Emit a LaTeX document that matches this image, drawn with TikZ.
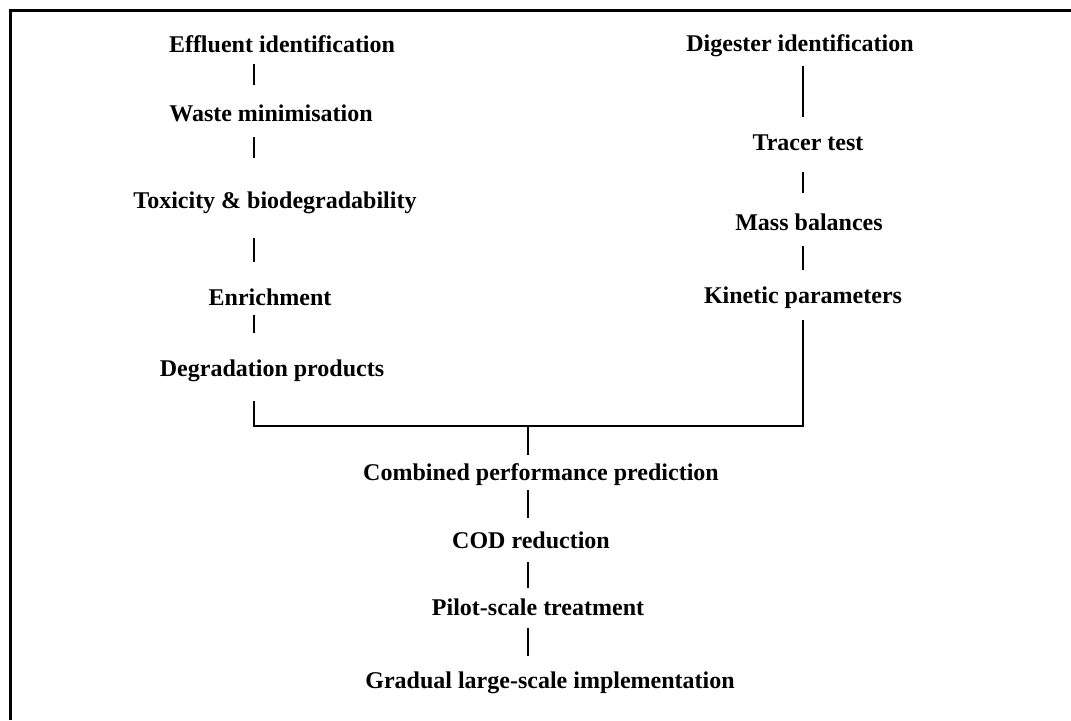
\documentclass[tikz,border=0pt]{standalone}
\usepackage{fontspec}
\setmainfont{Liberation Serif}
\usetikzlibrary{calc}

\begin{document}
\begin{tikzpicture}[x=0.5pt,y=-0.5pt,font=\fontsize{12}{14}\selectfont\bfseries]
\tikzstyle{t}=[inner sep=0pt,text height=0.8em,text depth=0pt]
\tikzstyle{ln}=[line width=1.3pt]
\useasboundingbox (0,0) rectangle (1071,720);
\draw[line width=1.5pt] (10,720) -- (10,10) -- (1071,10);
% effluent side
\node[t] (eff) at (282,44) {Effluent identification};
\node[t] (waste) at (271,113) {Waste minimisation};
\node[t] (tox) at (275,200) {Toxicity \& biodegradability};
\node[t] (enr) at (270,297) {Enrichment};
\node[t] (deg) at (272,368) {Degradation products};
% digester side
\node[t] (dig) at (800,43) {Digester identification};
\node[t] (tracer) at (808,142) {Tracer test};
\node[t] (mass) at (809,222) {Mass balances};
\node[t] (kin) at (803,295) {Kinetic parameters};
% combined
\node[t] (comb) at (541,472) {Combined performance prediction};
\node[t] (cod) at (531,540) {COD reduction};
\node[t] (pilot) at (538,607) {Pilot-scale treatment};
\node[t] (grad) at (550,680) {Gradual large-scale implementation};
% links
\draw[ln] ($(eff)+(-28,20)$) -- ($(waste)+(-17,-28)$);
\draw[ln] ($(waste)+(-17,24)$) -- ($(tox)+(-21,-42)$);
\draw[ln] ($(tox)+(-21,38)$) -- ($(enr)+(-16,-35)$);
\draw[ln] ($(enr)+(-16,18)$) -- ($(deg)+(-18,-35)$);
\draw[ln] ($(dig)+(3,23)$) -- ($(tracer)+(-5,-25)$);
\draw[ln] ($(tracer)+(-5,30)$) -- ($(mass)+(-6,-29)$);
\draw[ln] ($(mass)+(-6,24)$) -- ($(kin)+(0,-25)$);
\draw[ln] ($(deg)+(-18,33)$) -- ($(deg)+(-18,58)$) -| ($(kin)+(0,25)$);
\draw[ln] ($(comb)+(-13,-46)$) -- ($(comb)+(-13,-17)$);
\draw[ln] ($(comb)+(-13,18)$) -- ($(cod)+(-3,-22)$);
\draw[ln] ($(cod)+(-3,22)$) -- ($(pilot)+(-10,-19)$);
\draw[ln] ($(pilot)+(-10,21)$) -- ($(grad)+(-22,-24)$);
\end{tikzpicture}
\end{document}
